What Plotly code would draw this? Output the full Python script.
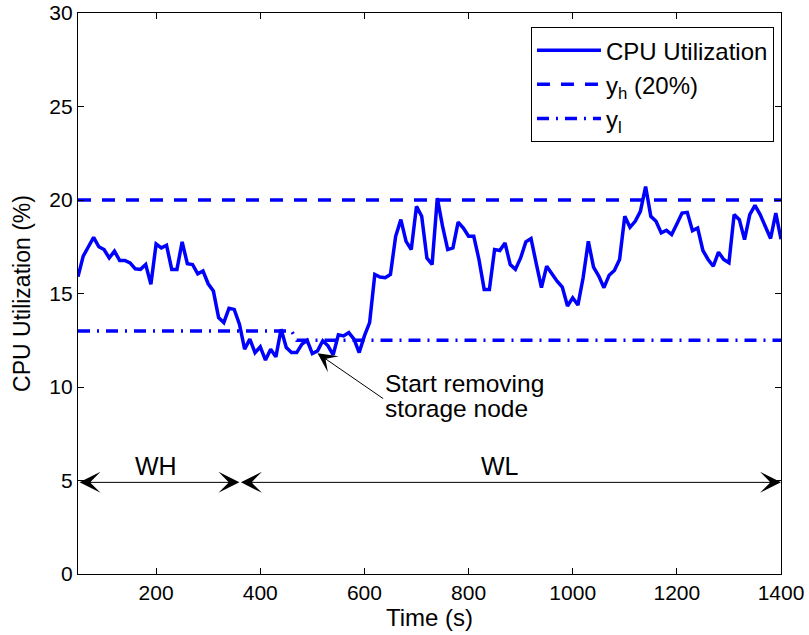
import plotly.graph_objects as go

# ---------------- data ----------------
time_s = list(range(50, 1401, 10))
cpu_util = [
    15.9, 17.0, 17.5, 18.0, 17.5, 17.35, 16.9, 17.26, 16.77, 16.77,
    16.64, 16.32, 16.29, 16.55, 15.49, 17.65, 17.44, 17.58, 16.29, 16.29,
    17.76, 16.59, 16.55, 16.05, 16.2, 15.52, 15.13, 13.71, 13.44, 14.21,
    14.15, 13.36, 12.02, 12.56, 11.84, 12.15, 11.44, 12.02, 11.61, 13.09,
    12.11, 11.84, 11.84, 12.29, 12.5, 11.79, 11.93, 12.47, 12.2, 11.72,
    12.79, 12.73, 12.91, 12.56, 11.84, 12.73, 13.44, 16.02, 15.88, 15.84,
    16.02, 18.06, 18.95, 17.79, 17.35, 19.66, 19.13, 16.9, 16.55, 20.1,
    18.6, 17.35, 17.44, 18.82, 18.5, 18.06, 18.06, 16.82, 15.22, 15.22,
    17.35, 17.3, 17.7, 16.55, 16.29, 16.9, 17.76, 17.94, 16.6, 15.31,
    16.46, 16.02, 15.66, 15.34, 14.33, 14.77, 14.38, 15.84, 17.79, 16.41,
    15.93, 15.31, 15.98, 16.23, 16.82, 19.13, 18.54, 18.86, 19.39, 20.72,
    19.13, 18.86, 18.24, 18.38, 18.15, 18.72, 19.3, 19.34, 18.36, 18.5,
    17.3, 16.82, 16.46, 17.21, 16.82, 16.64, 19.22, 18.95, 17.88, 19.22,
    19.71, 19.22, 18.6, 17.94, 19.3, 17.9,
]

yh_time = [50, 1400]
yh_value = [20, 20]

yl_time = [50, 460, 470, 1400]
yl_value = [13, 13, 12.5, 12.5]

x_ticks = [200, 400, 600, 800, 1000, 1200, 1400]
y_ticks = [0, 5, 10, 15, 20, 25, 30]

# phase arrows (start, end) and labels
wh_span = [50, 360]
wl_span = [360, 1400]
phase_y = 4.9
wh_label = ("WH", 200, 5.75)
wl_label = ("WL", 860, 5.75)

# event annotation
event_point = (510, 11.8)
event_tail = (636, 9.38)
event_line1 = "Start removing"
event_line2 = "storage node"
event_line2_y = 8.83

BLUE = "#0000ff"
FONT = "Liberation Sans, Arial, Helvetica, sans-serif"

fig = go.Figure()
fig.add_trace(go.Scatter(x=time_s, y=cpu_util, mode="lines", name="CPU Utilization",
                         legendgroup="a",
                         line=dict(color=BLUE, width=3.5)))
fig.add_trace(go.Scatter(x=yh_time, y=yh_value, mode="lines", name="y<sub>h</sub> (20%)",
                         legendgroup="b",
                         line=dict(color=BLUE, width=3.5, dash="13px,11px")))
fig.add_trace(go.Scatter(x=yl_time, y=yl_value, mode="lines", name="y<sub>l</sub>",
                         legendgroup="c",
                         line=dict(color=BLUE, width=3.5, dash="12px,7px,2px,7px")))

annotations = []
for span in (wh_span, wl_span):
    annotations.append(dict(
        x=span[1], y=phase_y, ax=span[0], ay=phase_y,
        xref="x", yref="y", axref="x", ayref="y",
        text="", showarrow=True, arrowhead=3, startarrowhead=3,
        arrowside="end+start", arrowsize=3.5, startarrowsize=3.5,
        arrowwidth=1, arrowcolor="black"))
for lab, lx, ly in (wh_label, wl_label):
    annotations.append(dict(x=lx, y=ly, xref="x", yref="y", text=lab, showarrow=False,
                            font=dict(size=25, family=FONT, color="black")))
annotations.append(dict(
    x=event_point[0], y=event_point[1], ax=event_tail[0], ay=event_tail[1],
    xref="x", yref="y", axref="x", ayref="y",
    text=event_line1, align="left", xanchor="left", yanchor="bottom",
    showarrow=True, arrowhead=3, arrowsize=3.2, arrowwidth=1, arrowcolor="black",
    font=dict(size=24.5, family=FONT, color="black")))
annotations.append(dict(
    x=event_tail[0], y=event_line2_y, xref="x", yref="y",
    text=event_line2, align="left", xanchor="left", yanchor="middle",
    showarrow=False, font=dict(size=24.5, family=FONT, color="black")))

fig.update_layout(
    width=809, height=635,
    margin=dict(l=78, r=28, t=13, b=61, autoexpand=False),
    plot_bgcolor="white", paper_bgcolor="white",
    font=dict(family=FONT, size=21, color="black"),
    showlegend=True,
    legend=dict(x=0.99, y=0.975, xanchor="right", yanchor="top",
                bordercolor="black", borderwidth=1, bgcolor="white",
                font=dict(size=24, family=FONT, color="black"),
                itemwidth=64, tracegroupgap=0),
    annotations=annotations,
)
fig.update_xaxes(range=[50, 1400], tickvals=x_ticks, ticks="inside", ticklen=6,
                 tickcolor="black", showline=True, linecolor="black", linewidth=1.3,
                 mirror="ticks", showgrid=False, zeroline=False, automargin=False,
                 tickfont=dict(size=21), ticklabeloverflow="allow",
                 title=dict(text="Time (s)", font=dict(size=24), standoff=0))
fig.update_yaxes(range=[0, 30], tickvals=y_ticks, ticks="inside", ticklen=6,
                 tickcolor="black", showline=True, linecolor="black", linewidth=1.3,
                 mirror="ticks", showgrid=False, zeroline=False, automargin=False,
                 tickfont=dict(size=21), ticklabeloverflow="allow",
                 title=dict(text="CPU Utilization (%)", font=dict(size=23), standoff=12))

fig.write_html("out.html", config={"displayModeBar": False},
               post_script="document.body.style.margin='0';document.body.style.overflow='hidden';")
